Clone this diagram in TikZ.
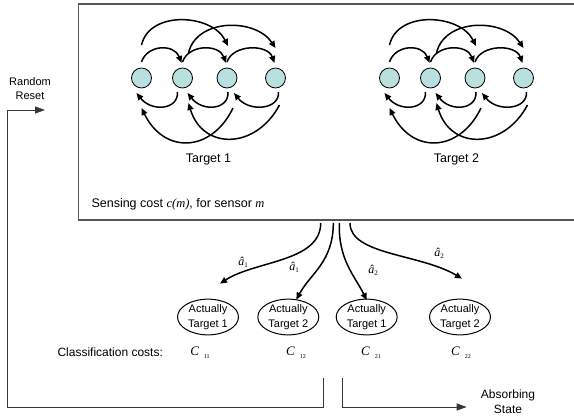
\documentclass[tikz,border=0pt]{standalone}
\usepackage{fontspec}
\setmainfont{Liberation Sans}
\newfontfamily\tnr{Liberation Serif}
\usetikzlibrary{arrows.meta,calc,shapes.geometric}

\definecolor{statefill}{RGB}{185,223,223}
\definecolor{framegray}{RGB}{85,85,85}
\definecolor{loopgray}{RGB}{55,55,55}

% estimated decision with its index
\newcommand\ahat[1]{{\tnr\itshape â}\raisebox{-2pt}{\tnr\fontsize{7}{7}\selectfont #1}}
% classification cost with its two indices
\newcommand\ccost[1]{{\tnr\itshape C}\hspace{5pt}\raisebox{-3pt}{\tnr\fontsize{6}{6}\selectfont #1}}

\begin{document}
\begin{tikzpicture}[x=1pt,y=-1pt,
  state/.style={circle,draw=black,line width=0.8pt,fill=statefill,minimum size=20pt,inner sep=0pt},
  move/.style={line width=1.5pt,-{Triangle[length=7pt,width=6pt]}},
  outcome/.style={ellipse,draw=black,line width=1pt,minimum width=61pt,minimum height=34pt,
    inner sep=0pt,align=center,font=\fontsize{11}{15}\selectfont},
  lbl/.style={font=\fontsize{12}{14}\selectfont},
  hatlbl/.style={font=\fontsize{12}{12}\selectfont,inner sep=0pt},
  costlbl/.style={font=\fontsize{13}{13}\selectfont,inner sep=0pt},
  flowline/.style={draw=loopgray,line width=1pt,-{Triangle[length=10pt,width=7pt]}},
]
\useasboundingbox (0,0) rectangle (574,416);

% sensing frame (its right side runs past the page edge)
\draw[framegray,line width=1.5pt] (78.5,4) rectangle (580,220);

% the two state chains
\foreach \t/\dx in {1/0,2/248}{
  \begin{scope}[shift={(\dx,0)}]
    \node[state] (t\t-a) at (141.5,78) {};
    \node[state] (t\t-b) at (182.5,78) {};
    \node[state] (t\t-c) at (227,78) {};
    \node[state] (t\t-d) at (275.5,78) {};
    % forward steps of one
    \foreach \i/\j in {a/b,b/c,c/d}{
      \draw[move] ($(t\t-\i)+(0,-16)$) .. controls ($(t\t-\i)+(6,-34)$) and ($(t\t-\j)+(-8,-34)$) .. ($(t\t-\j)+(-1,-15)$);
    }
    % forward steps of two
    \draw[move] ($(t\t-a)+(0,-33)$) .. controls ($(t\t-a)+(8,-68)$) and ($(t\t-c)+(-15,-64)$) .. ($(t\t-c)+(1,-32)$);
    \draw[move] ($(t\t-b)+(6,-25)$) .. controls ($(t\t-b)+(14,-60)$) and ($(t\t-d)+(-20,-60)$) .. ($(t\t-d)+(0,-30)$);
    % backward steps of one
    \foreach \j/\i/\s/\e in {b/a/-5/-5,c/b/1/5,d/c/3/7}{
      \draw[move] ($(t\t-\j)+(\s,14)$) .. controls ($(t\t-\j)+(\s,14)+(1,18)$) and ($(t\t-\i)+(\e,15)+(15,19)$) .. ($(t\t-\i)+(\e,15)$);
    }
    % backward steps of two
    \draw[move] ($(t\t-c)+(6,30)$) .. controls ($(t\t-c)+(-15,74)$) and ($(t\t-a)+(23,77)$) .. ($(t\t-a)+(0,30)$);
    \draw[move] ($(t\t-d)+(4,27)$) .. controls ($(t\t-d)+(-20,72)$) and ($(t\t-b)+(20,72)$) .. ($(t\t-b)+(6,25)$);
    \node[lbl,font=\fontsize{12.5}{14}\selectfont] (name\t) at ($(t\t-a)!0.5!(t\t-d)+(0,81)$) {Target \t};
  \end{scope}
}

\node[lbl,anchor=west,font=\fontsize{12.5}{14}\selectfont] (sensing) at (88,204) {Sensing cost {\tnr\itshape c(m)}, for sensor {\tnr\itshape m}};

% classification outcomes
\node[outcome] (e1) at (208,317) {Actually\\Target 1};
\node[outcome] (e2) at (288.3,317) {Actually\\Target 2};
\node[outcome] (e3) at (366.7,317) {Actually\\Target 1};
\node[outcome] (e4) at (460,317) {Actually\\Target 2};

\coordinate (s1) at (320.7,223);
\coordinate (s2) at (333.3,223);
\coordinate (s3) at (339.3,223);
\coordinate (s4) at (350,223);

\draw[move] (s1) .. controls ($(s1)+(0,39)$) and ($(e1.north)+(47,-38)$) .. ($(e1.north)+(12,-15)$);
\draw[move] (s2) .. controls ($(s2)+(0,39)$) and ($(e2.north)+(22,-25)$) .. ($(e2.north)+(8,1)$);
\draw[move] (s3) .. controls ($(s3)+(-1,37)$) and ($(e3.north)+(-12,-23)$) .. ($(e3.north)+(0,1.5)$);
\draw[move] (s4) .. controls ($(s4)+(0,32)$) and ($(e4.north)+(-40,-45)$) .. ($(e4.north)+(2,-20)$);

\node[hatlbl] (d1) at (243,262) {\ahat{1}};
\node[hatlbl] (d2) at (294,267) {\ahat{1}};
\node[hatlbl] (d3) at (373,270) {\ahat{2}};
\node[hatlbl] (d4) at (439,253) {\ahat{2}};

% classification costs
\node[lbl,anchor=west] (costs) at (54,352) {Classification costs:};
\node[costlbl] (c11) at (200,353) {\ccost{11}};
\node[costlbl] (c12) at (296,353) {\ccost{12}};
\node[costlbl] (c21) at (371,353) {\ccost{21}};
\node[costlbl] (c22) at (461,353) {\ccost{22}};

% reset and absorbing exits
\coordinate (resetsrc) at (323.3,378);
\coordinate (resetdst) at (45,110);
\coordinate (resetcorner) at (7,407);
\draw[flowline] (resetsrc) |- (resetcorner) |- (resetdst);
\node[lbl,align=center,font=\fontsize{11}{14}\selectfont] (reset) at (30,89) {Random\\Reset};

\coordinate (absorbsrc) at (342.7,378);
\coordinate (absorbdst) at (466.7,407);
\draw[flowline] (absorbsrc) |- (absorbdst);
\node[lbl,align=center,font=\fontsize{12}{15}\selectfont] (absorb) at (508,402) {Absorbing\\State};
\end{tikzpicture}
\end{document}
